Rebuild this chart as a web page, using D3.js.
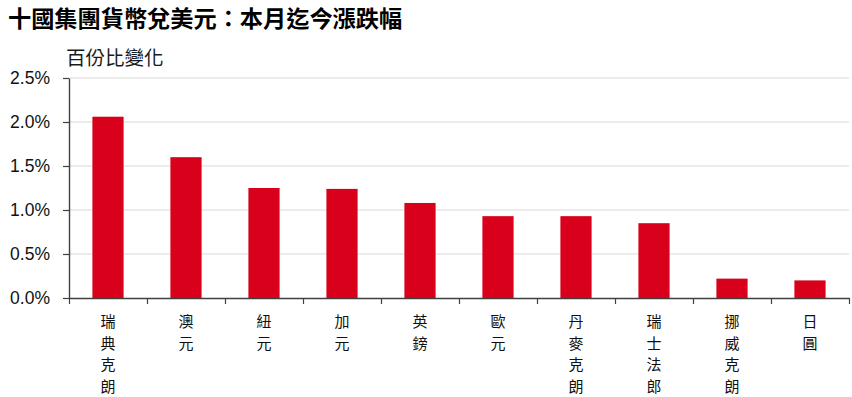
<!DOCTYPE html>
<html>
<head>
<meta charset="utf-8">
<script src="https://cdn.jsdelivr.net/npm/d3@7"></script>
<style>
  body { margin: 0; background: #fff; }
  text { font-family: "Liberation Sans", Arial, sans-serif; fill: #1a1a1a; }
  .cjk { font-family: "Noto Sans CJK TC", "Noto Sans CJK SC", sans-serif; }
</style>
</head>
<body>
<div id="chart"></div>
<script>
// data
var currencies = ["瑞典克朗", "澳元", "紐元", "加元", "英鎊", "歐元", "丹麥克朗", "瑞士法郎", "挪威克朗", "日圓"];
var changes = [2.06, 1.60, 1.25, 1.24, 1.08, 0.93, 0.93, 0.85, 0.22, 0.20];
var yTicks = [0, 0.5, 1.0, 1.5, 2.0, 2.5];

var titleText = "十國集團貨幣兌美元：本月迄今漲跌幅";
var unitText = "百份比變化";

var margin = { top: 78, right: 3, bottom: 99, left: 69 },
    width = 852 - margin.left - margin.right,
    height = 397 - margin.top - margin.bottom;

var svg = d3.select("#chart").append("svg")
    .attr("width", 852)
    .attr("height", 397);

// title and unit
svg.append("text")
    .attr("class", "cjk")
    .attr("x", 8)
    .attr("y", 27)
    .style("font-size", "23.2px")
    .style("font-weight", "bold")
    .style("fill", "#000")
    .text(titleText);

svg.append("text")
    .attr("class", "cjk")
    .attr("x", 66)
    .attr("y", 65)
    .style("font-size", "19.5px")
    .text(unitText);

var g = svg.append("g")
    .attr("transform", "translate(" + margin.left + "," + margin.top + ")");

// scales
var x = d3.scaleBand()
    .domain(currencies)
    .range([0, width])
    .paddingInner(0.6)
    .paddingOuter(0.3);
var xEdge = d3.scaleLinear()
    .domain([0, currencies.length])
    .range([0, width]);
var y = d3.scaleLinear()
    .domain([0, 2.5])
    .range([height, 0]);

// gridlines
g.selectAll(".grid")
    .data(yTicks.filter(function (d) { return d > 0; }))
    .enter().append("line")
    .attr("class", "grid")
    .attr("x1", 0)
    .attr("x2", width)
    .attr("y1", function (d) { return y(d); })
    .attr("y2", function (d) { return y(d); })
    .attr("stroke", "#d9d9d9")
    .attr("stroke-width", 1);

// bars
g.selectAll(".bar")
    .data(changes)
    .enter().append("rect")
    .attr("class", "bar")
    .attr("x", function (d, i) { return x(currencies[i]); })
    .attr("width", x.bandwidth())
    .attr("y", function (d) { return y(d); })
    .attr("height", function (d) { return height - y(d); })
    .attr("fill", "#d8001a");

// y axis
var yAxis = g.append("g")
    .call(d3.axisLeft(y)
        .tickValues(yTicks)
        .tickSize(6)
        .tickSizeOuter(0)
        .tickPadding(13)
        .tickFormat(function (d) { return d3.format(".1f")(d) + "%"; }));
yAxis.selectAll("text")
    .style("font-size", "17.5px")
    .style("font-family", "'Liberation Sans', Arial, sans-serif")
    .style("fill", "#111");

// x axis (ticks between categories)
var xAxis = g.append("g")
    .attr("transform", "translate(0," + height + ")")
    .call(d3.axisBottom(xEdge)
        .tickValues(d3.range(currencies.length + 1))
        .tickSize(6)
        .tickSizeOuter(0)
        .tickFormat(""));

[yAxis, xAxis].forEach(function (a) {
    a.select(".domain").attr("stroke", "#404040").attr("stroke-width", 1.4);
    a.selectAll(".tick line").attr("stroke", "#404040").attr("stroke-width", 1.2);
});

// vertical category labels, one character per line
var labels = g.selectAll(".xlabel")
    .data(currencies)
    .enter().append("text")
    .attr("class", "xlabel cjk")
    .attr("text-anchor", "middle")
    .style("font-size", "15px")
    .style("fill", "#111")
    .attr("transform", function (d) {
        return "translate(" + (x(d) + x.bandwidth() / 2) + "," + (height + 29) + ")";
    });

labels.selectAll("tspan")
    .data(function (d) { return d.split(""); })
    .enter().append("tspan")
    .attr("x", 0)
    .attr("y", function (d, i) { return i * 21.7; })
    .text(function (d) { return d; });
</script>
</body>
</html>
